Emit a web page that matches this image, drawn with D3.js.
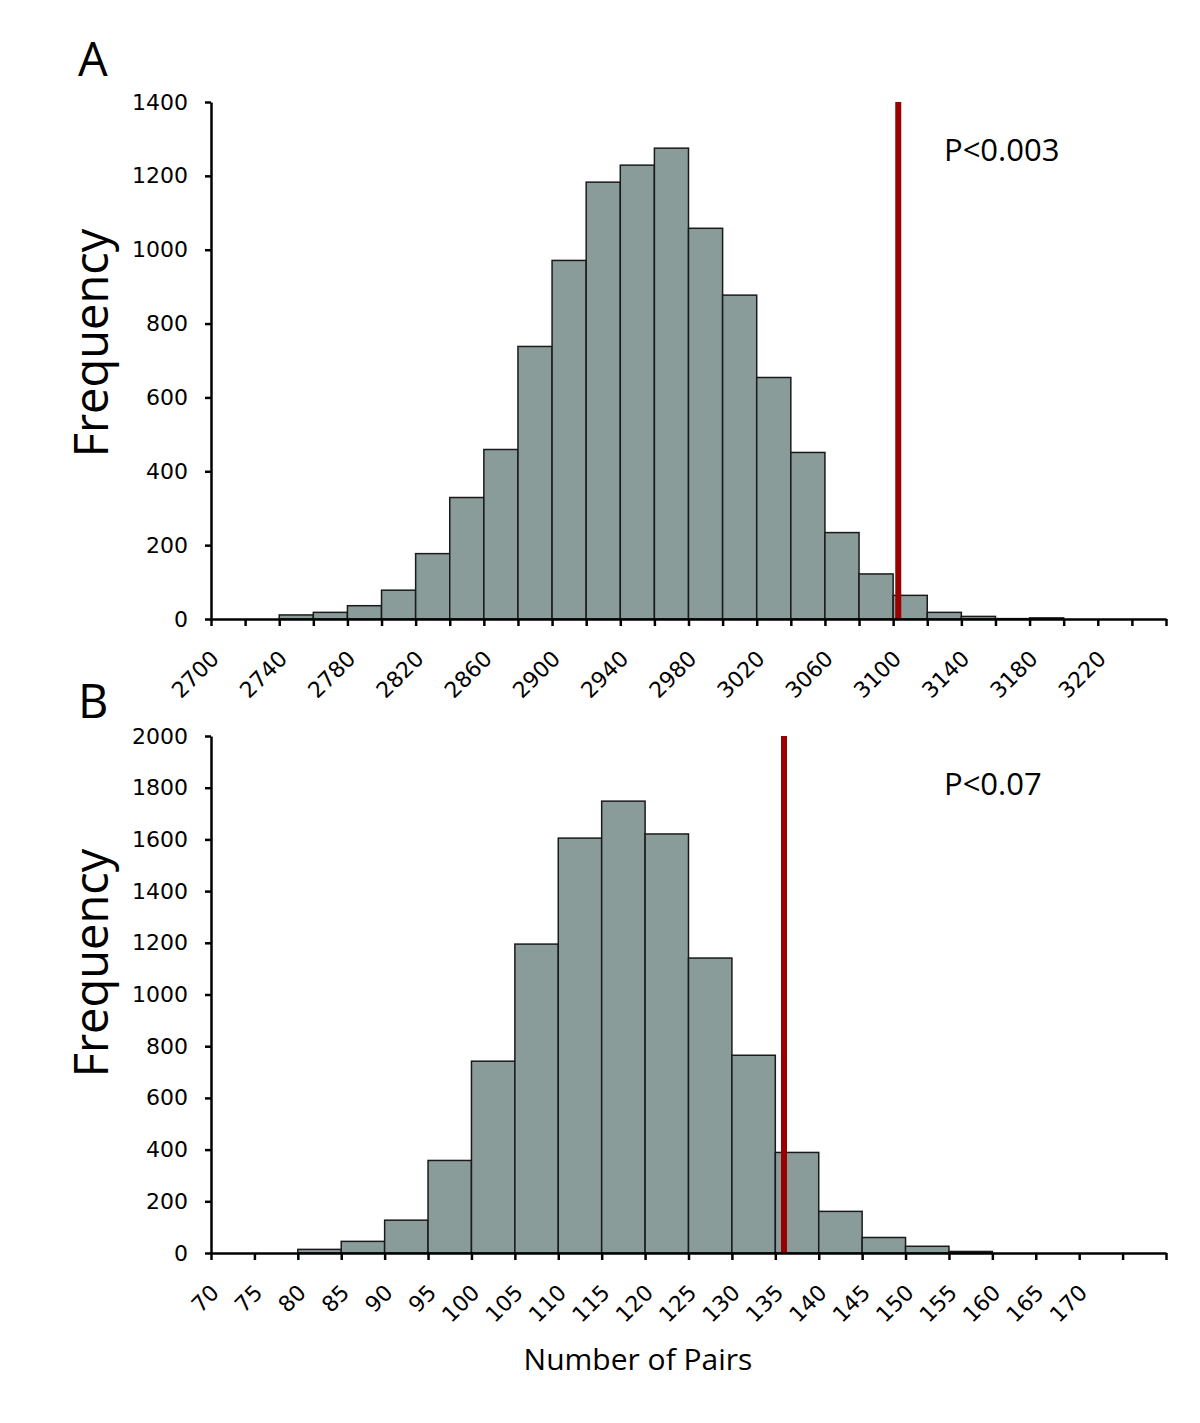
<!DOCTYPE html>
<html>
<head>
<meta charset="utf-8">
<script src="https://cdn.jsdelivr.net/npm/d3@7"></script>
<style>
  body { margin: 0; background: #fff; }
  .tick text { font-family: "DejaVu Sans", Verdana, sans-serif; font-size: 22px; fill: #000; }
  .label { font-family: "Open Sans", "Noto Sans", sans-serif; fill: #000; }
</style>
</head>
<body>
<div id="chart"></div>
<script>
// Panel A: histogram of pair counts (bins of 20)
var binsA = [2700, 2720, 2740, 2760, 2780, 2800, 2820, 2840, 2860, 2880, 2900, 2920, 2940, 2960,
  2980, 3000, 3020, 3040, 3060, 3080, 3100, 3120, 3140, 3160, 3180, 3200, 3220, 3240];
var countsA = [0, 0, 11, 18, 36, 78, 177, 329, 459, 738, 971, 1183, 1229, 1275,
  1058, 877, 654, 451, 234, 122, 64, 18, 7, 1, 3, 0, 0, 0];
var observedA = 3103;
var pLabelA = "P<0.003";

// Panel B: histogram of pair counts (bins of 5)
var binsB = [70, 75, 80, 85, 90, 95, 100, 105, 110, 115, 120, 125, 130, 135, 140, 145, 150,
  155, 160, 165, 170, 175];
var countsB = [0, 0, 14, 45, 127, 358, 742, 1195, 1605, 1748, 1621, 1141, 765, 389, 161, 60, 26,
  6, 0, 0, 0, 0];
var observedB = 136;
var pLabelB = "P<0.07";

var svgWidth = 1200;
var svgHeight = 1423;

var svg = d3.select("#chart")
  .append("svg")
  .attr("width", svgWidth)
  .attr("height", svgHeight);

function drawPanel(opts) {
  var x = d3.scaleLinear()
    .domain(opts.xDomain)
    .range([211, 1166]);

  var y = d3.scaleLinear()
    .domain(opts.yDomain)
    .range([opts.bottom, opts.top]);

  var g = svg.append("g");

  // bars
  g.selectAll("rect")
    .data(opts.bins.map((b, i) => ({ x0: b, x1: b + opts.step, n: opts.counts[i] })).filter(d => d.n > 0))
    .enter()
    .append("rect")
    .attr("x", d => x(d.x0))
    .attr("width", d => x(d.x1) - x(d.x0))
    .attr("y", d => y(d.n))
    .attr("height", d => y(0) - y(d.n))
    .attr("fill", "#8a9c9a")
    .attr("stroke", "#1a1a1a")
    .attr("stroke-width", 1.5);

  // observed value line
  g.append("line")
    .attr("x1", x(opts.observed))
    .attr("x2", x(opts.observed))
    .attr("y1", y(0))
    .attr("y2", y(opts.yDomain[1]))
    .attr("stroke", "#990000")
    .attr("stroke-width", 6);

  // x axis
  var xTicks = d3.range(opts.xDomain[0], opts.xDomain[1] + 0.001, opts.step);
  var xAxis = g.append("g")
    .attr("transform", `translate(0, ${opts.bottom})`)
    .call(d3.axisBottom(x)
      .tickValues(xTicks)
      .tickSize(7)
      .tickSizeOuter(0)
      .tickFormat(d => opts.showLabel(d) ? d : ""));

  xAxis.selectAll("text")
    .attr("y", 0)
    .attr("dy", 0)
    .attr("text-anchor", "end")
    .attr("transform", "translate(9, 41) rotate(-45)");

  // y axis
  var yAxis = g.append("g")
    .attr("transform", "translate(211, 0)")
    .call(d3.axisLeft(y)
      .ticks(opts.yDomain[1] / 200)
      .tickFormat(d3.format("d"))
      .tickSize(6)
      .tickSizeOuter(0)
      .tickPadding(17));

  [xAxis, yAxis].forEach(a => {
    a.select(".domain").attr("stroke", "#000").attr("stroke-width", 2.5);
    a.selectAll(".tick line").attr("stroke", "#000").attr("stroke-width", 2.5);
  });

  // y label
  svg.append("text")
    .attr("class", "label")
    .attr("transform", `translate(108, ${opts.titleY}) rotate(-90)`)
    .attr("text-anchor", "middle")
    .attr("font-size", "47px")
    .text("Frequency");

  // p value
  svg.append("text")
    .attr("class", "label")
    .attr("x", 944)
    .attr("y", opts.pY)
    .attr("font-size", "31px")
    .text(opts.pLabel);

  // panel letter
  svg.append("text")
    .attr("class", "label")
    .attr("x", 78)
    .attr("y", opts.letterY)
    .attr("font-size", "47px")
    .text(opts.letter);
}

drawPanel({
  bins: binsA, counts: countsA, step: 20,
  xDomain: [2700, 3260], yDomain: [0, 1400],
  top: 102, bottom: 619, titleY: 343,
  observed: observedA, pLabel: pLabelA, pY: 161,
  letter: "A", letterY: 76,
  showLabel: d => (d - 2700) % 40 === 0 && d <= 3220
});

drawPanel({
  bins: binsB, counts: countsB, step: 5,
  xDomain: [70, 180], yDomain: [0, 2000],
  top: 736, bottom: 1253, titleY: 963,
  observed: observedB, pLabel: pLabelB, pY: 795,
  letter: "B", letterY: 718,
  showLabel: d => d <= 170
});

// x axis title
svg.append("text")
  .attr("class", "label")
  .attr("x", 638)
  .attr("y", 1370)
  .attr("text-anchor", "middle")
  .attr("font-size", "30px")
  .text("Number of Pairs");
</script>
</body>
</html>
